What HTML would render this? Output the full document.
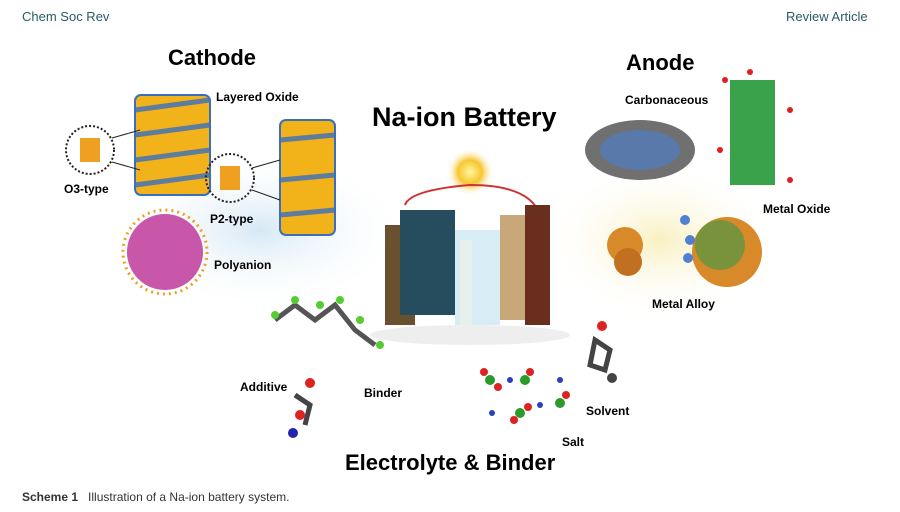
<!DOCTYPE html>
<html><head><style>
body{margin:0;width:900px;height:512px;background:#fff;position:relative;overflow:hidden;font-family:"Liberation Sans",sans-serif}
.t{position:absolute;white-space:nowrap}
</style></head><body>
<svg width="900" height="512" style="position:absolute;left:0;top:0">
<defs>
<radialGradient id="bl" cx="50%" cy="50%" r="50%"><stop offset="0" stop-color="#d6e8f5"/><stop offset="1" stop-color="#fff" stop-opacity="0"/></radialGradient>
<radialGradient id="yl" cx="50%" cy="50%" r="50%"><stop offset="0" stop-color="#f8f0c0"/><stop offset="1" stop-color="#fff" stop-opacity="0"/></radialGradient>
<radialGradient id="sun" cx="50%" cy="50%" r="50%"><stop offset="0" stop-color="#fff6a0"/><stop offset="0.5" stop-color="#f7c630"/><stop offset="1" stop-color="#fff" stop-opacity="0"/></radialGradient>
</defs>
<ellipse cx="260" cy="230" rx="150" ry="80" fill="url(#bl)"/>
<ellipse cx="660" cy="240" rx="120" ry="80" fill="url(#yl)"/>
<g fill="#f2b21a" stroke="#3a6fc0" stroke-width="2">
<rect x="135" y="95" width="75" height="100" rx="6"/>
<rect x="280" y="120" width="55" height="115" rx="6"/>
</g>
<g stroke="#3a6fc0" stroke-width="5" opacity="0.8">
<line x1="135" y1="110" x2="210" y2="100"/><line x1="135" y1="135" x2="210" y2="125"/><line x1="135" y1="160" x2="210" y2="150"/><line x1="135" y1="185" x2="210" y2="175"/>
<line x1="280" y1="140" x2="335" y2="135"/><line x1="280" y1="180" x2="335" y2="175"/><line x1="280" y1="215" x2="335" y2="210"/>
</g>
<circle cx="90" cy="150" r="24" fill="none" stroke="#222" stroke-dasharray="2,2" stroke-width="2"/>
<rect x="80" y="138" width="20" height="24" fill="#f0a020"/>
<circle cx="230" cy="178" r="24" fill="none" stroke="#222" stroke-dasharray="2,2" stroke-width="2"/>
<rect x="220" y="166" width="20" height="24" fill="#f0a020"/>
<line x1="112" y1="138" x2="140" y2="130" stroke="#222"/><line x1="112" y1="162" x2="140" y2="170" stroke="#222"/>
<line x1="252" y1="168" x2="280" y2="160" stroke="#222"/><line x1="252" y1="190" x2="280" y2="200" stroke="#222"/>
<circle cx="165" cy="252" r="38" fill="#c03a9a" opacity="0.85"/>
<circle cx="165" cy="252" r="42" fill="none" stroke="#f0a020" stroke-dasharray="2,4" stroke-width="3"/>
<circle cx="470" cy="172" r="24" fill="url(#sun)"/>
<path d="M405 205 Q410 190 470 185 Q530 185 540 215" fill="none" stroke="#c33" stroke-width="2"/>
<rect x="385" y="225" width="30" height="100" fill="#6b5030"/>
<rect x="400" y="210" width="55" height="105" fill="#254d5e"/>
<rect x="455" y="230" width="45" height="95" fill="#d7ecf5"/>
<rect x="460" y="240" width="12" height="85" fill="#e8f0ee"/>
<rect x="500" y="215" width="25" height="105" fill="#c8a878"/>
<rect x="525" y="205" width="25" height="120" fill="#6a2e1e"/>
<ellipse cx="470" cy="335" rx="100" ry="10" fill="#eee"/>
<ellipse cx="640" cy="150" rx="55" ry="30" fill="#333" opacity="0.7"/>
<ellipse cx="640" cy="150" rx="40" ry="20" fill="#4a7fd0" opacity="0.6"/>
<rect x="730" y="80" width="45" height="105" fill="#3aa24a"/>
<g fill="#e02020"><circle cx="725" cy="80" r="3"/><circle cx="790" cy="110" r="3"/><circle cx="720" cy="150" r="3"/><circle cx="790" cy="180" r="3"/><circle cx="750" cy="72" r="3"/></g>
<circle cx="625" cy="245" r="18" fill="#d88a2a"/><circle cx="628" cy="262" r="14" fill="#c07020"/>
<circle cx="727" cy="252" r="35" fill="#d88a2a"/><circle cx="720" cy="245" r="25" fill="#3a9a4a" opacity="0.6"/>
<circle cx="685" cy="220" r="5" fill="#5080d0"/><circle cx="690" cy="240" r="5" fill="#5080d0"/><circle cx="688" cy="258" r="5" fill="#5080d0"/>
<path d="M275 320 L295 305 L315 320 L335 305 L355 330 L375 345" fill="none" stroke="#555" stroke-width="5"/>
<g fill="#55cc33"><circle cx="275" cy="315" r="4"/><circle cx="295" cy="300" r="4"/><circle cx="320" cy="305" r="4"/><circle cx="340" cy="300" r="4"/><circle cx="360" cy="320" r="4"/><circle cx="380" cy="345" r="4"/></g>
<path d="M295 395 L310 405 L305 425" stroke="#444" stroke-width="5" fill="none"/>
<circle cx="310" cy="383" r="5" fill="#d22"/><circle cx="300" cy="415" r="5" fill="#d22"/><circle cx="293" cy="433" r="5" fill="#22a"/>
<g fill="#2a9a2a"><circle cx="490" cy="380" r="5"/><circle cx="525" cy="380" r="5"/><circle cx="560" cy="403" r="5"/><circle cx="520" cy="413" r="5"/></g>
<g fill="#d22"><circle cx="484" cy="372" r="4"/><circle cx="498" cy="387" r="4"/><circle cx="530" cy="372" r="4"/><circle cx="566" cy="395" r="4"/><circle cx="514" cy="420" r="4"/><circle cx="528" cy="407" r="4"/></g>
<g fill="#2a40c0"><circle cx="510" cy="380" r="3"/><circle cx="540" cy="405" r="3"/><circle cx="492" cy="413" r="3"/><circle cx="560" cy="380" r="3"/></g>
<path d="M595 340 L610 350 L605 370 L590 365 Z" fill="none" stroke="#444" stroke-width="5"/>
<circle cx="602" cy="326" r="5" fill="#d22"/><circle cx="612" cy="378" r="5" fill="#444"/>
</svg>
<div class="t" style="left:22px;top:9px;font-size:13px;color:#2a5b6a">Chem Soc Rev</div>
<div class="t" style="left:786px;top:9px;font-size:13px;color:#2a5b6a">Review Article</div>
<div class="t" style="left:168px;top:45px;font-size:22px;font-weight:bold">Cathode</div>
<div class="t" style="left:216px;top:90px;font-size:12px;font-weight:bold">Layered Oxide</div>
<div class="t" style="left:64px;top:182px;font-size:12px;font-weight:bold">O3-type</div>
<div class="t" style="left:210px;top:212px;font-size:12px;font-weight:bold">P2-type</div>
<div class="t" style="left:214px;top:258px;font-size:12px;font-weight:bold">Polyanion</div>
<div class="t" style="left:372px;top:102px;font-size:27px;font-weight:bold">Na-ion Battery</div>
<div class="t" style="left:626px;top:50px;font-size:22px;font-weight:bold">Anode</div>
<div class="t" style="left:625px;top:93px;font-size:12px;font-weight:bold">Carbonaceous</div>
<div class="t" style="left:763px;top:202px;font-size:12px;font-weight:bold">Metal Oxide</div>
<div class="t" style="left:652px;top:297px;font-size:12px;font-weight:bold">Metal Alloy</div>
<div class="t" style="left:240px;top:380px;font-size:12px;font-weight:bold">Additive</div>
<div class="t" style="left:364px;top:386px;font-size:12px;font-weight:bold">Binder</div>
<div class="t" style="left:586px;top:404px;font-size:12px;font-weight:bold">Solvent</div>
<div class="t" style="left:562px;top:435px;font-size:12px;font-weight:bold">Salt</div>
<div class="t" style="left:345px;top:450px;font-size:22px;font-weight:bold">Electrolyte &amp; Binder</div>
<div class="t" style="left:22px;top:490px;font-size:12px;color:#333"><b>Scheme 1</b>&nbsp;&nbsp; Illustration of a Na-ion battery system.</div>
</body></html>
